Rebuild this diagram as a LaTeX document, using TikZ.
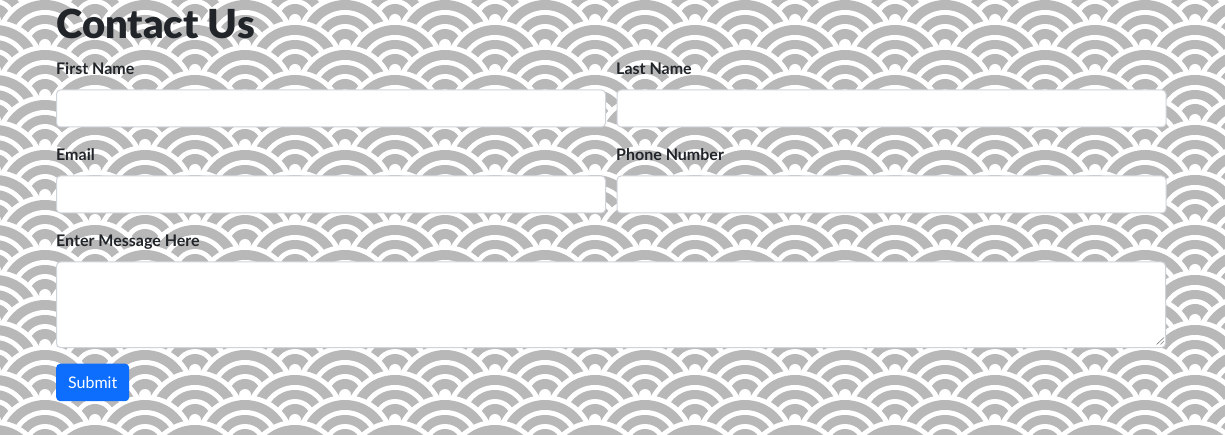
\documentclass[tikz,border=0pt]{standalone}
\usepackage{fontspec}
\setmainfont{Lato}
\newfontfamily\titlefont{Lato Black}
\definecolor{wavegray}{HTML}{B8B8B8}
\definecolor{inktext}{HTML}{212529}
\definecolor{fieldedge}{HTML}{CED4DA}
\definecolor{btnblue}{HTML}{0D6EFD}
\begin{document}
\begin{tikzpicture}
[
    x=1pt, y=-1pt,
    field/.style={draw=fieldedge, fill=white, rounded corners=4pt, line width=1pt,
        inner sep=0pt, anchor=north west, minimum width=549pt, minimum height=37pt},
    caption/.style={anchor=base west, inner sep=0pt, text=inktext,
        font=\fontsize{16}{19}\selectfont\bfseries},
]
\useasboundingbox (0,0) rectangle (1225,435);
\clip (0,0) rectangle (1225,435);
% wave background
\fill[wavegray] (0,0) rectangle (1225,435);
\foreach \row in {-2,...,18}{
    \pgfmathsetmacro\yy{20+25*\row}
    \pgfmathsetmacro\xoff{95-50*mod(\row+4,2)}
    \foreach \col in {-1,...,12}{
        \pgfmathsetmacro\xx{\xoff+100*\col}
        \foreach \r/\c in {50/white,45/wavegray,35/white,30/wavegray,21/white,16/wavegray,6/white}
            \fill[\c] (\xx+\r,\yy) arc[start angle=0, end angle=180, radius=\r pt] -- cycle;
    }
}
% form
\node[anchor=base west, inner sep=0pt, text=inktext, font=\fontsize{40}{48}\titlefont]
    (title) at (56,38.5) {Contact Us};
\node[caption] (firstlabel) at (56,74.5) {First Name};
\node[caption] (lastlabel) at (616,74.5) {Last Name};
\node[field] (firstbox) at (56,89.5) {};
\node[field] (lastbox) at (616.5,89.5) {};
\node[caption] (maillabel) at (56,160.5) {Email};
\node[caption] (phonelabel) at (616,160.5) {Phone Number};
\node[field] (mailbox) at (56,175.5) {};
\node[field] (phonebox) at (616.5,175.5) {};
\node[caption] (msglabel) at (56,246.5) {Enter Message Here};
\node[field, minimum width=1109pt, minimum height=85.5pt] (msgbox) at (56,261.5) {};
\draw[gray, line width=0.6pt] (1156.5,344.5) -- (1164,337.5) (1160.5,344.5) -- (1164,341);
\node[anchor=north west, fill=btnblue, rounded corners=4pt, minimum width=73pt, minimum height=37.5pt,
    inner sep=0pt] (submit) at (56,363.5) {};
\node[anchor=base, inner sep=0pt, text=white, font=\fontsize{16}{19}\selectfont]
    (submittext) at (submit.center |- 0,388.3) {Submit};
\end{tikzpicture}
\end{document}
